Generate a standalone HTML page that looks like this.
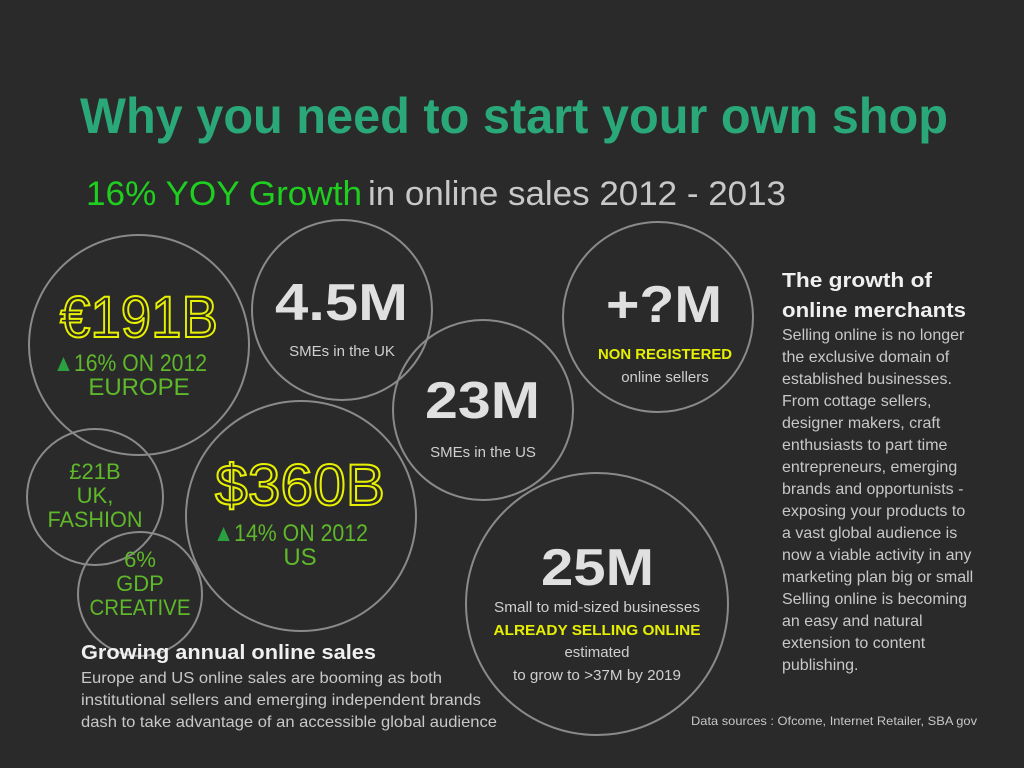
<!DOCTYPE html>
<html><head><meta charset="utf-8"><style>
html,body{margin:0;padding:0;background:#2a2a2a;}
svg{display:block;}
text{font-family:"Liberation Sans",sans-serif;}
</style></head><body>
<svg width="1024" height="768" viewBox="0 0 1024 768" xmlns="http://www.w3.org/2000/svg">
<rect width="1024" height="768" fill="#2a2a2a"/>
<text x="80" y="133" font-size="50" font-weight="bold" fill="#2ba87a" textLength="868" lengthAdjust="spacingAndGlyphs">Why you need to start your own shop</text>
<text x="86" y="205" font-size="34" fill="#1fcf1f" textLength="276" lengthAdjust="spacingAndGlyphs">16% YOY Growth</text>
<text x="368" y="205" font-size="34" fill="#c8c8c8" textLength="418" lengthAdjust="spacingAndGlyphs">in online sales 2012 - 2013</text>
<g fill="none" stroke="#8a8a8a" stroke-width="2">
<circle cx="139" cy="345" r="110"/>
<circle cx="342" cy="310" r="90"/>
<circle cx="483" cy="410" r="90"/>
<circle cx="658" cy="317" r="95"/>
<circle cx="597" cy="604" r="131"/>
<circle cx="301" cy="516" r="115"/>
<circle cx="95" cy="497" r="68"/>
<circle cx="140" cy="594" r="62"/>
</g>
<text x="60" y="337" font-size="58" fill="none" stroke="#e6f000" stroke-width="2" textLength="158" lengthAdjust="spacingAndGlyphs">€191B</text>
<text x="53" y="371" font-size="24" fill="#5fb82a" textLength="154" lengthAdjust="spacingAndGlyphs"><tspan fill="#2aa040">▲</tspan>16% ON 2012</text>
<text x="139" y="395" font-size="24" fill="#5fb82a" text-anchor="middle">EUROPE</text>
<text x="275" y="320" font-size="52" font-weight="bold" fill="#e0e0e0" textLength="133" lengthAdjust="spacingAndGlyphs">4.5M</text>
<text x="342" y="356" font-size="15" fill="#cfcfcf" text-anchor="middle">SMEs in the UK</text>
<text x="425" y="418" font-size="52" font-weight="bold" fill="#e0e0e0" textLength="115" lengthAdjust="spacingAndGlyphs">23M</text>
<text x="483" y="457" font-size="15" fill="#cfcfcf" text-anchor="middle">SMEs in the US</text>
<text x="606" y="322" font-size="52" font-weight="bold" fill="#e0e0e0" textLength="116" lengthAdjust="spacingAndGlyphs">+?M</text>
<text x="665" y="359" font-size="15" font-weight="bold" fill="#e6f000" text-anchor="middle" textLength="134" lengthAdjust="spacingAndGlyphs">NON REGISTERED</text>
<text x="665" y="382" font-size="15" fill="#cfcfcf" text-anchor="middle">online sellers</text>
<text x="541" y="585" font-size="52" font-weight="bold" fill="#e0e0e0" textLength="113" lengthAdjust="spacingAndGlyphs">25M</text>
<text x="597" y="612" font-size="15" fill="#cfcfcf" text-anchor="middle" textLength="206" lengthAdjust="spacingAndGlyphs">Small to mid-sized businesses</text>
<text x="597" y="635" font-size="15" font-weight="bold" fill="#e6f000" text-anchor="middle" textLength="207" lengthAdjust="spacingAndGlyphs">ALREADY SELLING ONLINE</text>
<text x="597" y="657" font-size="15" fill="#cfcfcf" text-anchor="middle">estimated</text>
<text x="597" y="680" font-size="15" fill="#cfcfcf" text-anchor="middle" textLength="168" lengthAdjust="spacingAndGlyphs">to grow to &gt;37M by 2019</text>
<text x="215" y="505" font-size="58" fill="none" stroke="#e6f000" stroke-width="2" textLength="170" lengthAdjust="spacingAndGlyphs">$360B</text>
<text x="213" y="541" font-size="24" fill="#5fb82a" textLength="155" lengthAdjust="spacingAndGlyphs"><tspan fill="#2aa040">▲</tspan>14% ON 2012</text>
<text x="300" y="565" font-size="24" fill="#5fb82a" text-anchor="middle">US</text>
<text x="95" y="479" font-size="22" fill="#5fb82a" text-anchor="middle">£21B</text>
<text x="95" y="503" font-size="22" fill="#5fb82a" text-anchor="middle">UK,</text>
<text x="95" y="527" font-size="22" fill="#5fb82a" text-anchor="middle" textLength="95" lengthAdjust="spacingAndGlyphs">FASHION</text>
<text x="140" y="567" font-size="22" fill="#5fb82a" text-anchor="middle">6%</text>
<text x="140" y="591" font-size="22" fill="#5fb82a" text-anchor="middle">GDP</text>
<text x="140" y="615" font-size="22" fill="#5fb82a" text-anchor="middle" textLength="101" lengthAdjust="spacingAndGlyphs">CREATIVE</text>
<text x="81" y="659" font-size="20" font-weight="bold" fill="#f0f0f0" textLength="295" lengthAdjust="spacingAndGlyphs">Growing annual online sales</text>
<g font-size="16" fill="#c8c8c8">
<text x="81" y="683" textLength="361" lengthAdjust="spacingAndGlyphs">Europe and US online sales are booming as both</text>
<text x="81" y="705" textLength="400" lengthAdjust="spacingAndGlyphs">institutional sellers and emerging independent brands</text>
<text x="81" y="727" textLength="416" lengthAdjust="spacingAndGlyphs">dash to take advantage of an accessible global audience</text>
</g>
<text x="782" y="287" font-size="20" font-weight="bold" fill="#f0f0f0" textLength="150" lengthAdjust="spacingAndGlyphs">The growth of</text>
<text x="782" y="317" font-size="20" font-weight="bold" fill="#f0f0f0" textLength="184" lengthAdjust="spacingAndGlyphs">online merchants</text>
<g font-size="16" fill="#c8c8c8">
<text x="782" y="340">Selling online is no longer</text>
<text x="782" y="362">the exclusive domain of</text>
<text x="782" y="384">established businesses.</text>
<text x="782" y="406">From cottage sellers,</text>
<text x="782" y="428">designer makers, craft</text>
<text x="782" y="450">enthusiasts to part time</text>
<text x="782" y="472">entrepreneurs, emerging</text>
<text x="782" y="494">brands and opportunists -</text>
<text x="782" y="516">exposing your products to</text>
<text x="782" y="538">a vast global audience is</text>
<text x="782" y="560">now a viable activity in any</text>
<text x="782" y="582">marketing plan big or small</text>
<text x="782" y="604">Selling online is becoming</text>
<text x="782" y="626">an easy and natural</text>
<text x="782" y="648">extension to content</text>
<text x="782" y="670">publishing.</text>
</g>
<text x="691" y="725" font-size="12" fill="#c8c8c8" textLength="286" lengthAdjust="spacingAndGlyphs">Data sources : Ofcome, Internet Retailer, SBA gov</text>
</svg>
</body></html>
